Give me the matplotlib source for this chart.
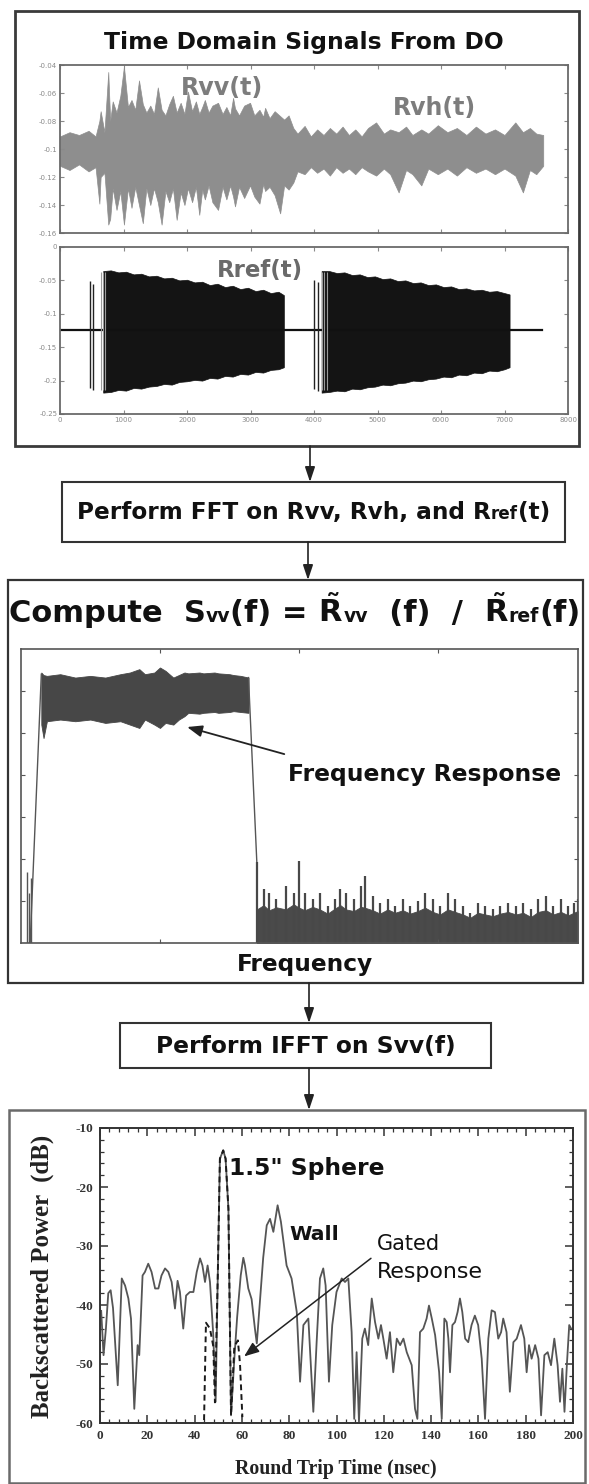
import matplotlib.pyplot as plt
from matplotlib.patches import Rectangle

plt.rcParams['axes.unicode_minus'] = False
plt.rcParams['mathtext.fontset'] = 'dejavusans'

W, H = 589, 1484
SANS = ['DejaVu Sans']
SERIF = ['Liberation Serif', 'DejaVu Serif']

# ---- Rvv / Rvh trace (envelope) ----
rvv_x = [0, 150, 300, 450, 560, 620, 640, 700, 760, 790, 830, 890, 950, 1007, 1070, 1126, 1185, 1244,
         1304, 1360, 1422, 1480, 1540, 1600, 1660, 1720, 1778, 1837, 1900, 1960, 2015, 2080, 2140, 2193,
         2240, 2281, 2340, 2400, 2489, 2560, 2620, 2680, 2726, 2756, 2820, 2900, 2993, 3060, 3141, 3200,
         3230, 3300, 3380, 3467, 3530, 3600, 3674, 3740, 3852, 3950, 4050, 4150, 4250, 4350, 4450, 4550,
         4650, 4750, 4850, 4978, 5100, 5200, 5333, 5450, 5550, 5690, 5800, 5950, 6100, 6250, 6400, 6550,
         6700, 6850, 7000, 7170, 7290, 7400, 7500, 7610]
rvv_hi = [-0.091, -0.088, -0.090, -0.087, -0.091, -0.080, -0.073, -0.088, -0.045, -0.080, -0.066, -0.074,
          -0.062, -0.041, -0.070, -0.065, -0.072, -0.051, -0.068, -0.074, -0.069, -0.075, -0.056, -0.072,
          -0.076, -0.068, -0.062, -0.074, -0.067, -0.075, -0.059, -0.073, -0.066, -0.075, -0.070, -0.065,
          -0.074, -0.069, -0.067, -0.075, -0.070, -0.076, -0.0635, -0.071, -0.076, -0.069, -0.067, -0.076,
          -0.072, -0.077, -0.0706, -0.078, -0.073, -0.0765, -0.079, -0.076, -0.085, -0.089, -0.0835, -0.091,
          -0.086, -0.090, -0.085, -0.089, -0.084, -0.090, -0.086, -0.091, -0.085, -0.081, -0.089, -0.086,
          -0.088, -0.084, -0.090, -0.086, -0.089, -0.083, -0.088, -0.085, -0.090, -0.084, -0.089, -0.086,
          -0.090, -0.081, -0.088, -0.085, -0.089, -0.090]
rvv_lo = [-0.112, -0.115, -0.111, -0.116, -0.113, -0.139, -0.120, -0.117, -0.154, -0.150, -0.128, -0.1435,
          -0.130, -0.154, -0.128, -0.142, -0.127, -0.140, -0.153, -0.128, -0.140, -0.128, -0.138, -0.154,
          -0.130, -0.138, -0.128, -0.1506, -0.131, -0.140, -0.128, -0.138, -0.127, -0.147, -0.129, -0.136,
          -0.126, -0.138, -0.1435, -0.127, -0.136, -0.126, -0.134, -0.141, -0.127, -0.135, -0.126, -0.134,
          -0.139, -0.125, -0.130, -0.127, -0.133, -0.146, -0.126, -0.129, -0.124, -0.116, -0.118, -0.113,
          -0.117, -0.114, -0.119, -0.113, -0.117, -0.114, -0.118, -0.113, -0.116, -0.119, -0.114, -0.118,
          -0.131, -0.115, -0.118, -0.126, -0.114, -0.118, -0.114, -0.119, -0.113, -0.117, -0.114, -0.118,
          -0.114, -0.119, -0.131, -0.115, -0.118, -0.112]

# ---- Rref trace: two chirp bursts ----
b1_x = [680, 800, 920, 1040, 1160, 1280, 1400, 1520, 1640, 1760, 1880, 2000, 2120, 2240, 2360, 2480,
        2600, 2720, 2840, 2960, 3080, 3200, 3320, 3440, 3525]
b1_hi = [-0.036, -0.035, -0.038, -0.037, -0.041, -0.040, -0.044, -0.043, -0.047, -0.046, -0.050, -0.049,
         -0.053, -0.052, -0.057, -0.055, -0.060, -0.058, -0.063, -0.061, -0.066, -0.064, -0.069, -0.067, -0.072]
b1_lo = [-0.218, -0.217, -0.214, -0.215, -0.211, -0.212, -0.209, -0.208, -0.205, -0.206, -0.202, -0.201,
         -0.199, -0.200, -0.196, -0.197, -0.193, -0.194, -0.190, -0.191, -0.187, -0.188, -0.184, -0.183, -0.180]
b2_x = [4120, 4240, 4360, 4480, 4600, 4720, 4840, 4960, 5080, 5200, 5320, 5440, 5560, 5680, 5800, 5920,
        6040, 6160, 6280, 6400, 6520, 6640, 6760, 6880, 7000, 7080]
b2_hi = [-0.036, -0.036, -0.039, -0.038, -0.042, -0.041, -0.045, -0.044, -0.048, -0.047, -0.051, -0.050,
         -0.054, -0.053, -0.057, -0.056, -0.060, -0.059, -0.063, -0.062, -0.065, -0.064, -0.067, -0.066,
         -0.069, -0.071]
b2_lo = [-0.218, -0.217, -0.215, -0.216, -0.212, -0.213, -0.210, -0.209, -0.206, -0.207, -0.204, -0.203,
         -0.200, -0.201, -0.198, -0.197, -0.194, -0.195, -0.191, -0.192, -0.188, -0.189, -0.185, -0.186,
         -0.183, -0.180]
rref_base_x = [0, 7590]
rref_base_y = [-0.125, -0.125]
rref_spike_x = [474, 521, 4000, 4060]
rref_spike_top = [-0.051, -0.055, -0.050, -0.052]
rref_spike_bot = [-0.211, -0.214, -0.213, -0.215]
rref_lead_x = [640, 670, 705, 4130, 4165, 4200]

# ---- frequency response |S_vv(f)| (normalised frequency) ----
band_f = [0.037, 0.041, 0.047, 0.071, 0.098, 0.125, 0.152, 0.179, 0.196, 0.213, 0.223, 0.240, 0.250,
          0.260, 0.274, 0.284, 0.294, 0.301, 0.321, 0.328, 0.348, 0.355, 0.375, 0.382, 0.395, 0.409]
band_hi = [6.44, 6.38, 6.36, 6.40, 6.32, 6.36, 6.32, 6.40, 6.44, 6.52, 6.40, 6.44, 6.56, 6.48, 6.32, 6.38,
           6.44, 6.42, 6.44, 6.42, 6.44, 6.42, 6.40, 6.38, 6.36, 6.32]
band_lo = [5.20, 4.88, 5.28, 5.32, 5.28, 5.32, 5.24, 5.28, 5.20, 5.12, 5.32, 5.20, 5.12, 5.24, 5.20, 5.32,
           5.40, 5.48, 5.46, 5.48, 5.50, 5.48, 5.50, 5.52, 5.50, 5.48]
edge_f = [0.017, 0.037, 0.409, 0.424]
edge_v = [0.0, 6.40, 6.32, 1.90]
lead_f = [0.012, 0.015, 0.018]
lead_v = [1.70, 1.20, 1.55]
noise_f = [0.424, 0.436, 0.446, 0.459, 0.476, 0.490, 0.500, 0.510, 0.524, 0.537, 0.551, 0.564, 0.574,
           0.584, 0.598, 0.611, 0.618, 0.632, 0.645, 0.659, 0.672, 0.686, 0.699, 0.713, 0.726, 0.740,
           0.753, 0.767, 0.780, 0.794, 0.807, 0.821, 0.834, 0.848, 0.861, 0.875, 0.889, 0.902, 0.916,
           0.929, 0.943, 0.956, 0.970, 0.983, 0.993, 1.000]
noise_v = [1.92, 1.28, 1.20, 1.04, 1.36, 1.20, 1.96, 1.20, 1.04, 1.20, 0.88, 1.04, 1.28, 1.20, 1.04, 1.36,
           1.60, 1.12, 0.96, 1.04, 0.88, 1.04, 0.88, 1.00, 1.20, 1.04, 0.88, 1.20, 1.04, 0.88, 0.72, 0.96,
           0.88, 0.80, 0.88, 0.96, 0.88, 0.96, 0.80, 1.04, 1.12, 0.88, 1.04, 0.88, 0.96, 1.04]
noise_floor = [0.80, 0.90, 0.78, 0.85, 0.80, 0.92, 0.84, 0.78, 0.86, 0.80, 0.70, 0.82, 0.90, 0.80, 0.76,
               0.86, 0.84, 0.78, 0.70, 0.80, 0.72, 0.78, 0.70, 0.76, 0.84, 0.74, 0.68, 0.80, 0.74, 0.68,
               0.60, 0.72, 0.68, 0.64, 0.70, 0.74, 0.68, 0.72, 0.62, 0.74, 0.78, 0.68, 0.74, 0.66, 0.72, 0.76]

# ---- backscattered power after IFFT ----
bs_t = [0.5, 1.5, 2.5, 3.5, 4.5, 5.5, 7.5, 9.2, 10.6, 12.0, 13.1, 14.5, 15.9, 16.6, 18.0, 19.0, 20.4,
        21.8, 23.3, 24.7, 26.0, 27.5, 28.9, 30.3, 31.7, 32.8, 33.8, 35.2, 36.4, 38.0, 39.5, 40.9, 42.3,
        43.3, 44.4, 45.5, 46.5, 47.9, 48.9, 49.8, 50.7, 52.1, 53.1, 54.3, 55.4, 56.8, 58.0, 59.5, 60.6,
        61.3, 62.7, 64.1, 65.5, 66.3, 67.5, 69.0, 70.5, 71.9, 73.3, 75.1, 76.5, 78.9, 81.0, 83.2, 84.6,
        86.0, 88.1, 90.2, 91.6, 93.0, 94.4, 95.4, 96.8, 98.2, 100.0, 102.2, 103.6, 105.0, 106.4, 107.5,
        108.5, 109.5, 110.9, 112.0, 113.4, 114.9, 116.3, 117.7, 118.8, 119.8, 121.2, 122.6, 124.0, 125.5,
        126.9, 128.3, 129.7, 131.8, 133.2, 134.2, 135.3, 136.7, 138.1, 139.1, 140.3, 141.7, 143.4, 144.5,
        145.6, 146.6, 147.3, 148.0, 149.0, 150.1, 151.2, 152.2, 153.2, 154.4, 155.7, 157.1, 158.5, 159.9,
        161.4, 162.8, 164.2, 165.6, 167.0, 168.4, 169.6, 170.5, 171.9, 173.3, 174.8, 176.2, 178.0, 179.4,
        180.4, 181.4, 182.5, 184.0, 185.4, 186.5, 187.9, 189.3, 190.7, 192.1, 193.5, 194.5, 195.5, 196.4,
        197.4, 198.4, 199.2]
bs_db = [-41.0, -48.5, -44.0, -38.0, -37.5, -40.5, -53.6, -35.5, -36.7, -38.9, -42.3, -57.6, -46.8, -48.5,
         -35.0, -34.4, -33.0, -34.4, -37.2, -37.2, -35.0, -33.8, -34.4, -36.1, -40.6, -35.9, -37.8, -44.0,
         -38.4, -37.8, -37.8, -34.4, -32.1, -33.3, -36.1, -33.3, -36.1, -45.1, -56.4, -35.0, -15.2, -13.8,
         -15.2, -23.7, -58.7, -49.1, -42.0, -35.0, -32.0, -33.3, -37.2, -39.0, -44.0, -46.5, -40.0, -32.0,
         -26.5, -25.4, -27.6, -23.1, -25.9, -33.3, -35.5, -41.2, -53.0, -43.4, -42.3, -58.1, -46.3, -35.5,
         -33.8, -36.7, -53.0, -43.4, -37.8, -35.5, -36.1, -35.5, -44.6, -59.3, -48.0, -59.8, -45.7, -44.0,
         -46.8, -38.9, -42.9, -45.7, -43.4, -45.7, -49.1, -44.6, -51.4, -45.7, -46.8, -45.7, -48.0, -50.2,
         -57.6, -59.3, -44.6, -44.0, -42.3, -40.1, -42.3, -45.1, -51.4, -59.3, -42.3, -42.9, -45.7, -51.4,
         -43.4, -42.9, -41.2, -38.9, -41.2, -45.7, -46.3, -43.4, -41.8, -43.4, -49.1, -59.3, -45.7, -40.9,
         -41.2, -45.7, -44.6, -42.3, -44.6, -54.7, -46.3, -45.7, -43.4, -45.7, -51.4, -46.8, -49.1, -46.8,
         -49.1, -58.7, -48.5, -48.0, -50.2, -45.7, -50.2, -56.4, -50.8, -58.1, -50.2, -43.4, -44.0]
gate_t = [44.0, 44.8, 46.5, 47.9, 48.6, 49.8, 50.7, 52.1, 53.1, 54.3, 55.4, 56.8, 58.3, 59.2, 60.2]
gate_db = [-59.5, -43.0, -44.0, -47.0, -56.5, -35.0, -15.2, -13.8, -15.2, -23.7, -58.7, -47.0, -46.0,
           -50.0, -59.0]

ax1_yticks = [-0.16, -0.14, -0.12, -0.1, -0.08, -0.06, -0.04]
ax1_ylabels = ['-0.16', '-0.14', '-0.12', '-0.1', '-0.08', '-0.06', '-0.04']
ax2_yticks = [-0.25, -0.2, -0.15, -0.1, -0.05, 0]
ax2_ylabels = ['-0.25', '-0.2', '-0.15', '-0.1', '-0.05', '0']
time_ticks = [0, 1000, 2000, 3000, 4000, 5000, 6000, 7000, 8000]
bs_xticks = [0, 20, 40, 60, 80, 100, 120, 140, 160, 180, 200]
bs_yticks = [-60, -50, -40, -30, -20, -10]

fig = plt.figure(figsize=(W / 100, H / 100), dpi=100)
fig.patch.set_facecolor('white')


def add_ax(x0, y0, x1, y1):
    return fig.add_axes([x0 / W, 1 - y1 / H, (x1 - x0) / W, (y1 - y0) / H])


# ---------- panel 1: time-domain signals ----------
ax1 = add_ax(60, 65, 568, 233)
ax1.fill_between(rvv_x, rvv_lo, rvv_hi, color='#8e8e8e', lw=0.5)
ax1.set_xlim(0, 8000)
ax1.set_ylim(-0.16, -0.04)
ax1.set_yticks(ax1_yticks)
ax1.set_yticklabels(ax1_ylabels)
ax1.set_xticks(time_ticks)
ax1.set_xticklabels([])

ax2 = add_ax(60, 247, 568, 414)
ax2.plot(rref_base_x, rref_base_y, color='#111111', lw=1.6)
ax2.fill_between(b1_x, b1_lo, b1_hi, color='#141414', lw=0.5)
ax2.fill_between(b2_x, b2_lo, b2_hi, color='#141414', lw=0.5)
ax2.vlines(rref_spike_x, rref_spike_bot, rref_spike_top, color='#222222', lw=1.0)
ax2.vlines(rref_lead_x, -0.214, -0.038, color='#9a9a9a', lw=0.8)
ax2.set_xlim(0, 8000)
ax2.set_ylim(-0.25, 0)
ax2.set_yticks(ax2_yticks)
ax2.set_yticklabels(ax2_ylabels)
ax2.set_xticks(time_ticks)
ax2.set_xticklabels([str(v) for v in time_ticks])

for ax in (ax1, ax2):
    ax.tick_params(direction='in', top=True, right=True, length=3, width=0.8,
                   colors='#8a8a8a', labelsize=5, pad=2)
    for s in ax.spines.values():
        s.set_color('#6a6a6a')
        s.set_linewidth(1.3)

# ---------- panel 2: frequency response ----------
ax3 = add_ax(20.7, 649, 577.7, 943)
ax3.fill_between(band_f, band_lo, band_hi, color='#474747', lw=0.6)
ax3.plot(edge_f[:2], edge_v[:2], color='#555555', lw=1.0)
ax3.plot(edge_f[2:], edge_v[2:], color='#555555', lw=1.0)
ax3.vlines(lead_f, 0, lead_v, color='#555555', lw=1.0)
ax3.fill_between(noise_f, 0, noise_floor, color='#4a4a4a', lw=0.6)
ax3.vlines(noise_f, 0, noise_v, color='#484848', lw=1.6)
ax3.annotate('', xy=(0.294, 5.16), xytext=(0.478, 4.48),
             arrowprops=dict(arrowstyle='-|>,head_length=0.9,head_width=0.35', color='#222222', lw=1.3))
ax3.set_xlim(0, 1)
ax3.set_ylim(0, 7)
ax3.set_xticks([0.25, 0.5, 0.75])
ax3.set_yticks([1, 2, 3, 4, 5, 6])
ax3.tick_params(direction='in', top=True, right=True, length=3, width=0.8, colors='#555555',
                labelbottom=False, labelleft=False)
for s in ax3.spines.values():
    s.set_color('#555555')
    s.set_linewidth(1.2)

# ---------- panel 3: backscattered power ----------
ax4 = add_ax(100, 1128, 573, 1423)
ax4.plot(bs_t, bs_db, color='#555555', lw=1.3)
ax4.plot(gate_t, gate_db, color='#1a1a1a', lw=1.4, ls=(0, (3, 2)))
ax4.annotate('', xy=(60.0, -49.0), xytext=(115.5, -31.8),
             arrowprops=dict(arrowstyle='-|>,head_length=0.9,head_width=0.35', color='#222222', lw=1.1))
ax4.set_xlim(0, 200)
ax4.set_ylim(-60, -10)
ax4.set_xticks(bs_xticks)
ax4.set_yticks(bs_yticks)
ax4.set_xticks(range(0, 201, 4), minor=True)
ax4.set_yticks(range(-60, -9, 2), minor=True)
ax4.tick_params(which='both', direction='in', top=True, right=True, colors='#333333')
ax4.tick_params(which='major', length=6, width=1.1, labelsize=9.5, pad=5)
ax4.tick_params(which='minor', length=3, width=0.9)
for lab in ax4.get_xticklabels() + ax4.get_yticklabels():
    lab.set_family(SERIF)
    lab.set_fontweight('bold')
for s in ax4.spines.values():
    s.set_color('#333333')
    s.set_linewidth(1.4)

# ---------- flowchart overlay (pixel coordinates, y downward) ----------
over = fig.add_axes([0, 0, 1, 1], zorder=10)
over.set_xlim(0, W)
over.set_ylim(H, 0)
over.axis('off')
renderer = fig.canvas.get_renderer()


def box(x0, y0, x1, y1, lw=1.5, ec='#333333'):
    over.add_patch(Rectangle((x0, y0), x1 - x0, y1 - y0, fill=False, ec=ec, lw=lw))


def arrow(x, y0, y1):
    over.annotate('', xy=(x, y1), xytext=(x, y0),
                  arrowprops=dict(arrowstyle='-|>,head_length=0.9,head_width=0.3',
                                  color='#222222', lw=1.2, shrinkA=0, shrinkB=0))


def width_of(s, size, **kw):
    t = over.text(0, 0, s, fontsize=size, **kw)
    w = t.get_window_extent(renderer).width
    t.remove()
    return w


def fit_text(s, x, y, width, ha='left', va='center', rotation=0, **kw):
    size = 12 * width / width_of(s, 12, **kw)
    return over.text(x, y, s, fontsize=size, ha=ha, va=va, rotation=rotation, **kw)


def run_text(x0, x1, y, pieces, **kw):
    total = sum(width_of(s, 12 * r, **kw) for s, r in pieces)
    k = (x1 - x0) / total
    x = x0
    for s, r in pieces:
        t = over.text(x, y, s, fontsize=12 * r * k, ha='left', va='baseline', **kw)
        x += t.get_window_extent(renderer).width


bold = dict(family=SANS, fontweight='bold', color='#111111')
RT = r'$\mathbf{\tilde{R}}$'

box(15, 11, 579, 446, lw=2.0, ec='#3a3a3a')
fit_text('Time Domain Signals From DO', 304, 43, 397, ha='center', **bold)
fit_text('Rvv(t)', 181, 88, 82, color='#7d7d7d', family=SANS, fontweight='bold')
fit_text('Rvh(t)', 393, 108, 83, color='#7d7d7d', family=SANS, fontweight='bold')
fit_text('Rref(t)', 217, 271, 86, color='#6a6a6a', family=SANS, fontweight='bold')

arrow(310, 446, 482)
box(62, 482, 565, 542)
run_text(77, 549, 519, [('Perform FFT on Rvv, Rvh, and R', 1.0), ('ref', 0.72), ('(t)', 1.0)], **bold)

arrow(308, 542, 580)
box(8, 580, 583, 983, lw=1.6)
run_text(9, 581, 622, [('Compute  S', 1.0), ('vv', 0.62), ('(f) = ', 1.0), (RT, 1.0), ('vv', 0.62),
                       ('  (f)  /  ', 1.0), (RT, 1.0), ('ref', 0.62), ('(f)', 1.0)], **bold)
fit_text('Frequency Response', 288, 775, 273, **bold)
fit_text('Frequency', 305, 965, 136, ha='center', **bold)

arrow(309, 983, 1023)
box(120, 1023, 491, 1068)
fit_text('Perform IFFT on Svv(f)', 306, 1047, 298, ha='center', **bold)

arrow(309, 1068, 1110)
box(9, 1110, 585, 1483, lw=1.8, ec='#6a6a6a')
fit_text('1.5" Sphere', 229, 1168, 155, **bold)
fit_text('Wall', 289, 1234, 49, **bold)
fit_text('Gated', 377, 1244, 63, family=SANS, color='#111111')
fit_text('Response', 377, 1272, 106, family=SANS, color='#111111')
fit_text('Backscattered Power  (dB)', 42, 1276, 282, ha='center', rotation=90,
         family=SERIF, fontweight='bold', color='#222222')
fit_text('Round Trip Time (nsec)', 336, 1469, 200, ha='center',
         family=SERIF, fontweight='bold', color='#222222')

fig.savefig('out.png', dpi=100, facecolor='white')
